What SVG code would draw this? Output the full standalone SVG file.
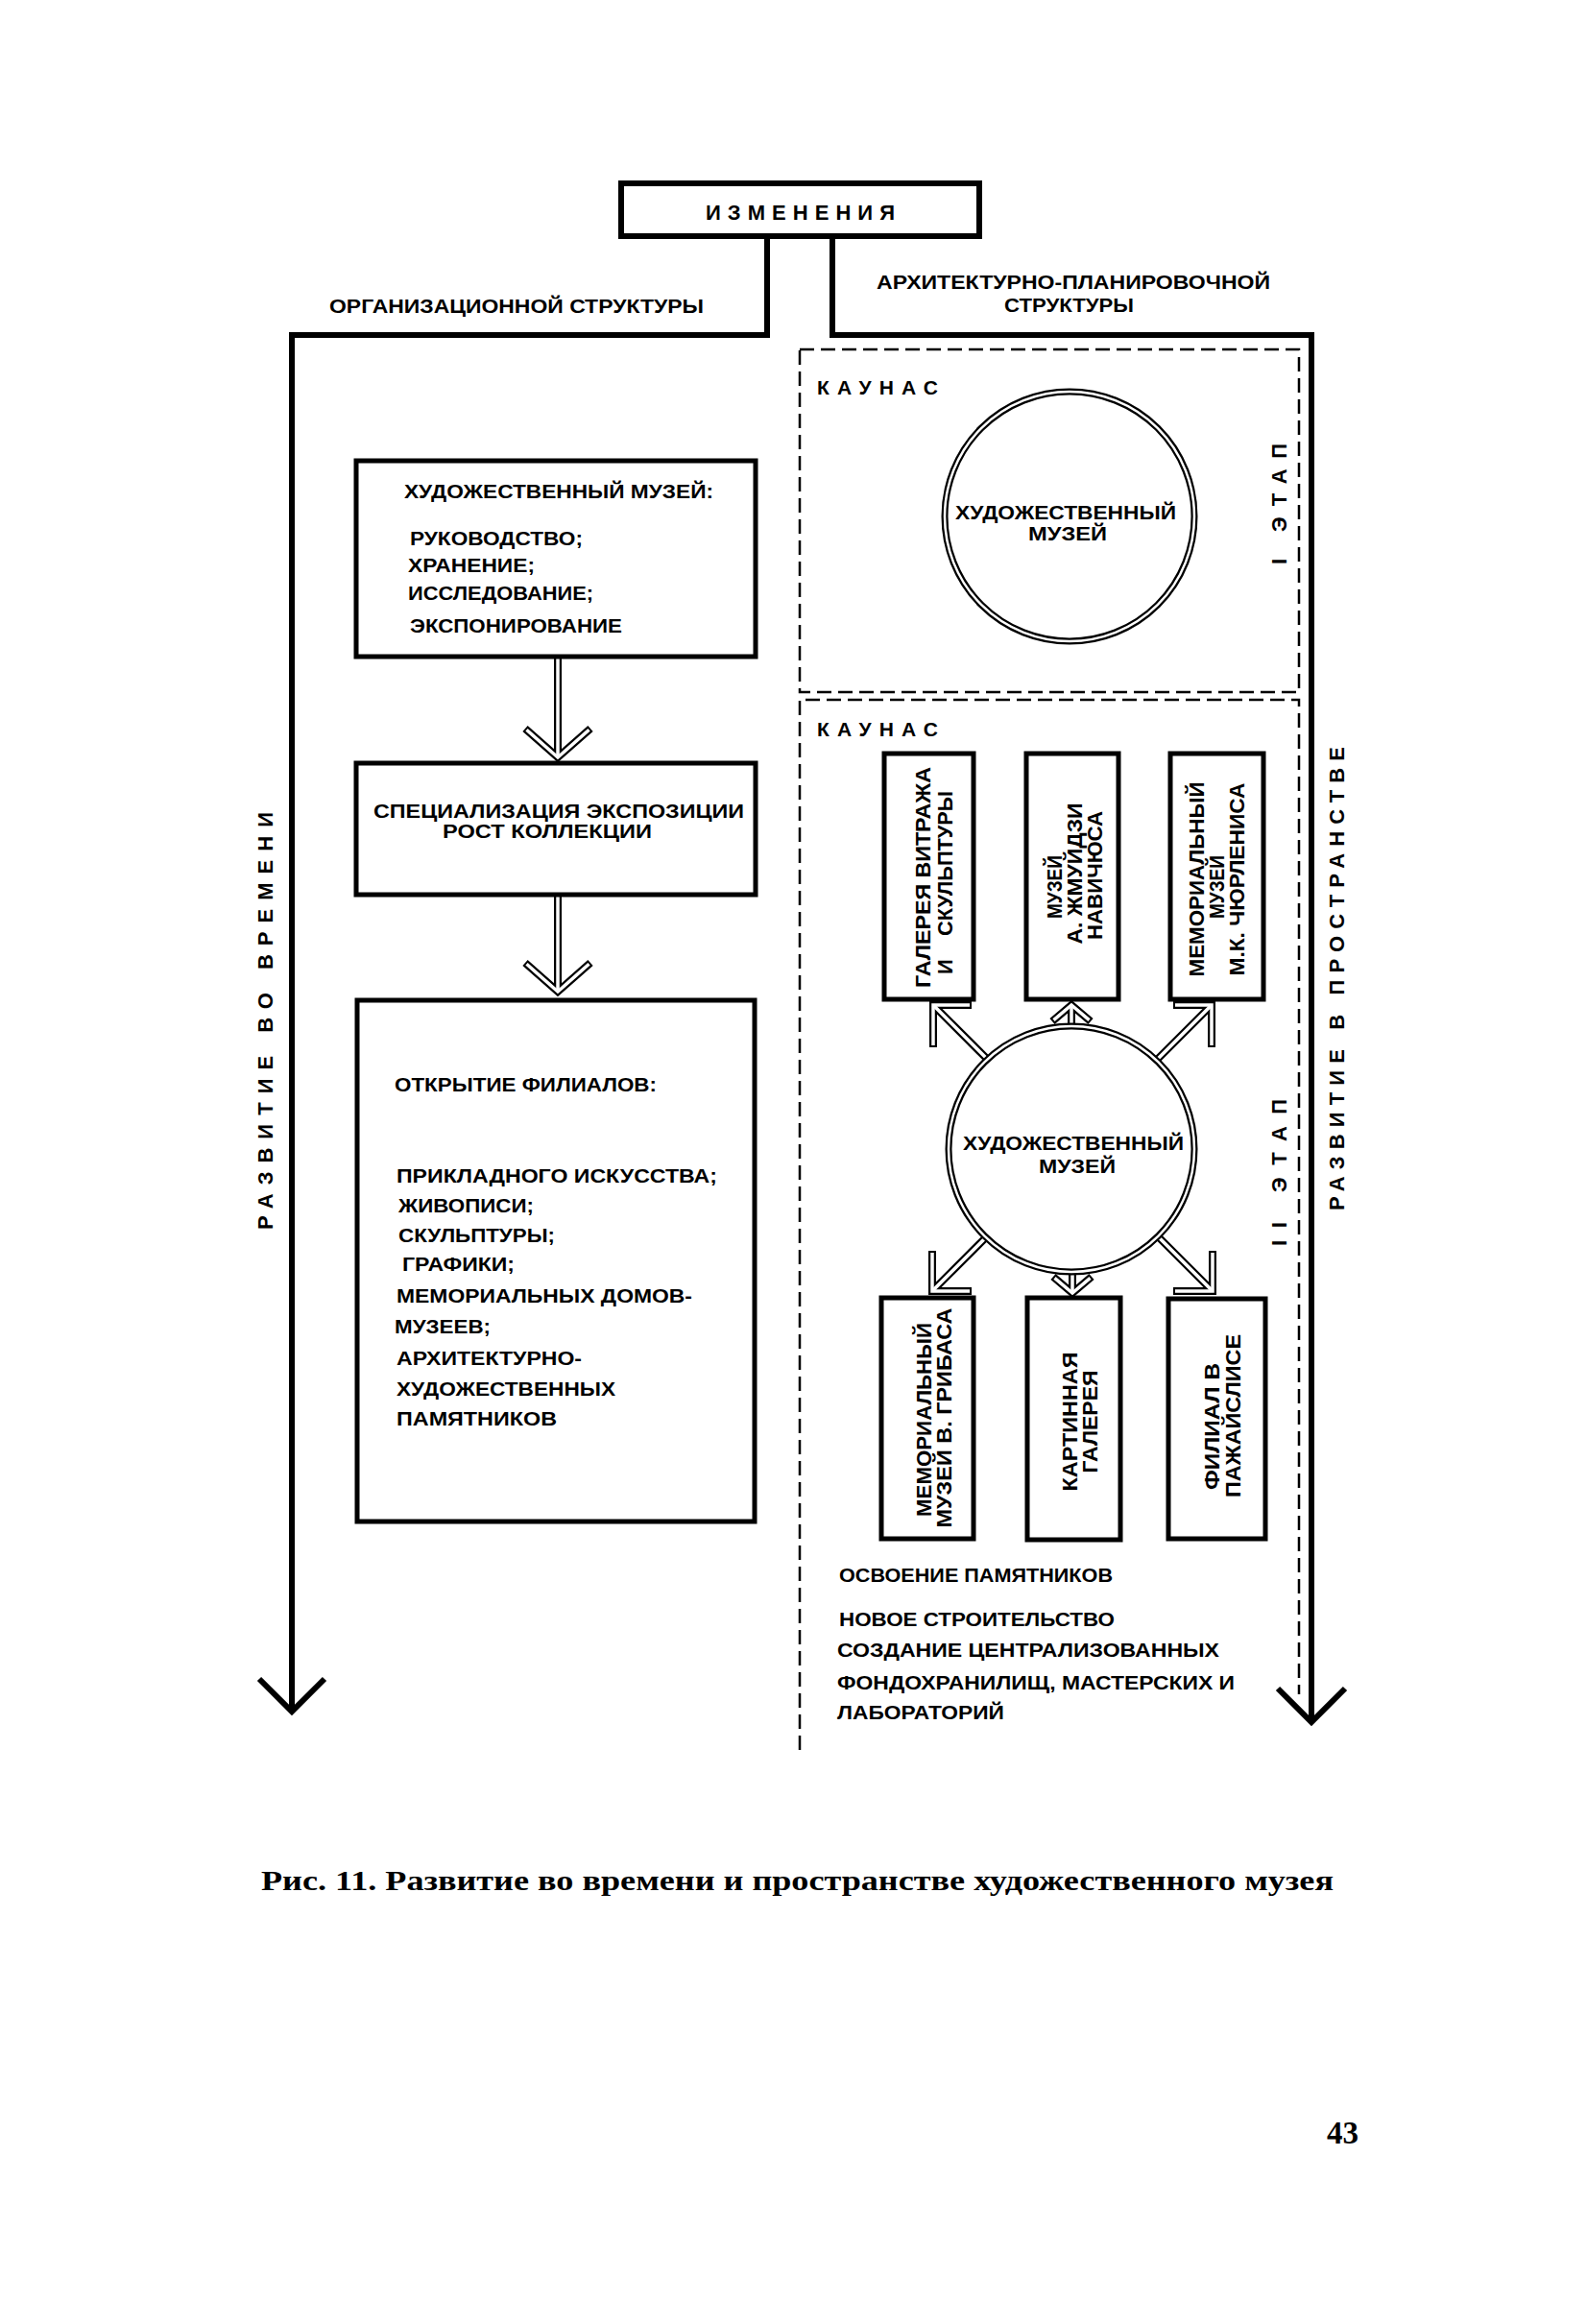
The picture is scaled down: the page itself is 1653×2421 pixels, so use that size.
<svg xmlns="http://www.w3.org/2000/svg" width="1653" height="2421" viewBox="0 0 1653 2421">
<style>
.ln{fill:none;stroke:#000;stroke-width:6;stroke-linejoin:miter;stroke-miterlimit:10}
.hb{fill:#fff;stroke:#000;stroke-width:6}
.bx{fill:#fff;stroke:#000;stroke-width:5}
.ds{fill:none;stroke:#000;stroke-width:2.5;stroke-dasharray:15 7}
.ok{fill:none;stroke:#000;stroke-width:8;stroke-linejoin:miter;stroke-miterlimit:10}
.iw{fill:none;stroke:#fff;stroke-width:3.5;stroke-linejoin:miter;stroke-miterlimit:10}
.rk{fill:#fff;stroke:#000;stroke-width:7}
.rw{fill:none;stroke:#fff;stroke-width:2.5}
text{font-family:"Liberation Sans",Arial,sans-serif;font-weight:bold;fill:#000}
.s{font-size:20px}
.n{font-size:21px}
.h{font-size:20px}
.v{font-size:22px;text-anchor:middle}
.m{font-size:21px;text-anchor:middle}
.sp{font-size:21px}
.rv{font-size:22px}
.cap{font-family:"Liberation Serif","Times New Roman",serif;font-size:30px}
</style>
<rect x="0" y="0" width="1653" height="2421" fill="#fff"/>

<g id="frames">
  <rect class="ds" x="833" y="364" width="520" height="357"/>
  <path class="ds" d="M833 1823 V729 H1353 V1765"/>
</g>

<g id="connectors">
  <path class="ln" d="M799 246 V349 H304 V1783"/>
  <path class="ln" d="M270 1749 L304 1783 L338 1749"/>
  <path class="ln" d="M867 246 V349 H1366 V1794"/>
  <path class="ln" d="M1331 1759 L1366 1794 L1401 1759"/>
  <g id="arrow-l1-l2">
    <path class="ok" d="M581 684 V789"/><path class="ok" d="M547 759 L581 789 L615 759"/>
    <path class="iw" d="M581 684 V789"/><path class="iw" d="M548.5 760.3 L581 789 L613.5 760.3"/>
  </g>
  <g id="arrow-l2-l3">
    <path class="ok" d="M581 932 V1033"/><path class="ok" d="M547 1003 L581 1033 L615 1003"/>
    <path class="iw" d="M581 932 V1033"/><path class="iw" d="M548.5 1004.3 L581 1033 L613.5 1004.3"/>
  </g>
  <g id="arrow-c2-a">
    <path class="ok" d="M972 1091 V1047 H1012"/><path class="ok" d="M972 1047 L1028 1103"/>
    <path class="iw" d="M972 1089 V1047 H1010"/><path class="iw" d="M972 1047 L1028 1103"/>
  </g>
  <g id="arrow-c2-b">
    <path class="ok" d="M1116 1072 V1047"/><path class="ok" d="M1096 1064 L1116 1047 L1136 1064"/>
    <path class="iw" d="M1116 1072 V1047"/><path class="iw" d="M1097.5 1062.7 L1116 1047 L1134.5 1062.7"/>
  </g>
  <g id="arrow-c2-c">
    <path class="ok" d="M1262 1091 V1047 H1222"/><path class="ok" d="M1262 1047 L1205 1104"/>
    <path class="iw" d="M1262 1089 V1047 H1224"/><path class="iw" d="M1262 1047 L1205 1104"/>
  </g>
  <g id="arrow-c2-d">
    <path class="ok" d="M971 1303 V1345 H1012"/><path class="ok" d="M971 1345 L1027 1289"/>
    <path class="iw" d="M971 1305 V1345 H1010"/><path class="iw" d="M971 1345 L1027 1289"/>
  </g>
  <g id="arrow-c2-e">
    <path class="ok" d="M1117 1322 V1346"/><path class="ok" d="M1097 1330 L1117 1347 L1137 1330"/>
    <path class="iw" d="M1117 1322 V1346"/><path class="iw" d="M1098.5 1331.3 L1117 1347 L1135.5 1331.3"/>
  </g>
  <g id="arrow-c2-f">
    <path class="ok" d="M1263 1303 V1345 H1222"/><path class="ok" d="M1263 1345 L1206 1288"/>
    <path class="iw" d="M1263 1305 V1345 H1224"/><path class="iw" d="M1263 1345 L1206 1288"/>
  </g>
</g>

<g id="izmeneniya">
  <rect class="hb" x="647" y="191" width="373" height="55"/>
  <text style="font-size:22px" x="735" y="229" textLength="197" lengthAdjust="spacing">ИЗМЕНЕНИЯ</text>
</g>
<g id="label-org">
  <text class="h" x="343" y="326" textLength="390" lengthAdjust="spacingAndGlyphs">ОРГАНИЗАЦИОННОЙ СТРУКТУРЫ</text>
</g>
<g id="label-arch">
  <text class="h" x="913" y="301" textLength="410" lengthAdjust="spacingAndGlyphs">АРХИТЕКТУРНО-ПЛАНИРОВОЧНОЙ</text>
  <text class="h" x="1046" y="325" textLength="135" lengthAdjust="spacingAndGlyphs">СТРУКТУРЫ</text>
</g>

<g id="label-time">
  <text class="rv" transform="translate(284,1281) rotate(-90)" x="0" y="0" textLength="435" lengthAdjust="spacing">РАЗВИТИЕ ВО ВРЕМЕНИ</text>
</g>
<g id="label-space">
  <text class="rv" transform="translate(1400,1261) rotate(-90)" x="0" y="0" textLength="483" lengthAdjust="spacing">РАЗВИТИЕ В ПРОСТРАНСТВЕ</text>
</g>
<g id="label-stage1">
  <text class="rv" transform="translate(1340,588) rotate(-90)" x="0" y="0" textLength="126" lengthAdjust="spacing">I ЭТАП</text>
</g>
<g id="label-stage2">
  <text class="rv" transform="translate(1340,1298) rotate(-90)" x="0" y="0" textLength="153" lengthAdjust="spacing">II ЭТАП</text>
</g>

<g id="box-museum-functions">
  <rect class="bx" x="371" y="480" width="416" height="204"/>
  <text class="s" x="421" y="519" textLength="322" lengthAdjust="spacingAndGlyphs">ХУДОЖЕСТВЕННЫЙ МУЗЕЙ:</text>
  <text class="s" x="427" y="568" textLength="180" lengthAdjust="spacingAndGlyphs">РУКОВОДСТВО;</text>
  <text class="s" x="425" y="596" textLength="132" lengthAdjust="spacingAndGlyphs">ХРАНЕНИЕ;</text>
  <text class="s" x="425" y="625" textLength="193" lengthAdjust="spacingAndGlyphs">ИССЛЕДОВАНИЕ;</text>
  <text class="s" x="427" y="659" textLength="221" lengthAdjust="spacingAndGlyphs">ЭКСПОНИРОВАНИЕ</text>
</g>
<g id="box-specialization">
  <rect class="bx" x="371" y="795" width="416" height="137"/>
  <text class="s" x="389" y="852" textLength="386" lengthAdjust="spacingAndGlyphs">СПЕЦИАЛИЗАЦИЯ ЭКСПОЗИЦИИ</text>
  <text class="s" x="461" y="873" textLength="218" lengthAdjust="spacingAndGlyphs">РОСТ КОЛЛЕКЦИИ</text>
</g>
<g id="box-branches">
  <rect class="bx" x="372" y="1042" width="414" height="543"/>
  <text class="s" x="411" y="1137" textLength="273" lengthAdjust="spacingAndGlyphs">ОТКРЫТИЕ ФИЛИАЛОВ:</text>
  <text class="s" x="413" y="1232" textLength="334" lengthAdjust="spacingAndGlyphs">ПРИКЛАДНОГО ИСКУССТВА;</text>
  <text class="s" x="415" y="1263" textLength="141" lengthAdjust="spacingAndGlyphs">ЖИВОПИСИ;</text>
  <text class="s" x="415" y="1294" textLength="163" lengthAdjust="spacingAndGlyphs">СКУЛЬПТУРЫ;</text>
  <text class="s" x="419" y="1324" textLength="117" lengthAdjust="spacingAndGlyphs">ГРАФИКИ;</text>
  <text class="s" x="413" y="1357" textLength="308" lengthAdjust="spacingAndGlyphs">МЕМОРИАЛЬНЫХ ДОМОВ-</text>
  <text class="s" x="411" y="1389" textLength="100" lengthAdjust="spacingAndGlyphs">МУЗЕЕВ;</text>
  <text class="s" x="413" y="1422" textLength="193" lengthAdjust="spacingAndGlyphs">АРХИТЕКТУРНО-</text>
  <text class="s" x="413" y="1454" textLength="228" lengthAdjust="spacingAndGlyphs">ХУДОЖЕСТВЕННЫХ</text>
  <text class="s" x="413" y="1485" textLength="167" lengthAdjust="spacingAndGlyphs">ПАМЯТНИКОВ</text>
</g>

<g id="kaunas-1">
  <text class="sp" x="851" y="411" textLength="126" lengthAdjust="spacing">КАУНАС</text>
</g>
<g id="circle-stage1">
  <circle class="rk" cx="1114" cy="538" r="130"/>
  <circle class="rw" cx="1114" cy="538" r="130"/>
  <text class="m" x="1110" y="541" textLength="230" lengthAdjust="spacingAndGlyphs">ХУДОЖЕСТВЕННЫЙ</text>
  <text class="m" x="1112" y="563" textLength="82" lengthAdjust="spacingAndGlyphs">МУЗЕЙ</text>
</g>

<g id="kaunas-2">
  <text class="sp" x="851" y="767" textLength="126" lengthAdjust="spacing">КАУНАС</text>
</g>
<g id="circle-stage2">
  <circle class="rk" cx="1116" cy="1197" r="128"/>
  <circle class="rw" cx="1116" cy="1197" r="128"/>
  <text class="m" x="1118" y="1198" textLength="230" lengthAdjust="spacingAndGlyphs">ХУДОЖЕСТВЕННЫЙ</text>
  <text class="m" x="1122" y="1222" textLength="80" lengthAdjust="spacingAndGlyphs">МУЗЕЙ</text>
</g>

<g id="box-vitrage">
  <rect class="bx" x="921" y="785" width="93" height="256"/>
  <text class="v" transform="translate(969,914) rotate(-90)" textLength="230" lengthAdjust="spacingAndGlyphs">ГАЛЕРЕЯ ВИТРАЖА</text>
  <text style="font-size:22px" transform="translate(992,0) rotate(-90)"><tspan x="-1015" y="0">И </tspan><tspan x="-975" y="0" textLength="151" lengthAdjust="spacingAndGlyphs">СКУЛЬПТУРЫ</tspan></text>
</g>
<g id="box-zmuidzinavicius">
  <rect class="bx" x="1069" y="785" width="96" height="256"/>
  <text class="v" transform="translate(1106,924) rotate(-90)" textLength="66" lengthAdjust="spacingAndGlyphs">МУЗЕЙ</text>
  <text class="v" transform="translate(1127,910) rotate(-90)" textLength="147" lengthAdjust="spacingAndGlyphs">А. ЖМУЙДЗИ</text>
  <text class="v" transform="translate(1148,912) rotate(-90)" textLength="134" lengthAdjust="spacingAndGlyphs">НАВИЧЮСА</text>
</g>
<g id="box-ciurlionis">
  <rect class="bx" x="1219" y="785" width="97" height="256"/>
  <text class="v" transform="translate(1254,916) rotate(-90)" textLength="203" lengthAdjust="spacingAndGlyphs">МЕМОРИАЛЬНЫЙ</text>
  <text class="v" transform="translate(1275,924) rotate(-90)" textLength="66" lengthAdjust="spacingAndGlyphs">МУЗЕЙ</text>
  <text class="v" transform="translate(1296,916) rotate(-90)" textLength="201" lengthAdjust="spacingAndGlyphs">М.К. ЧЮРЛЕНИСА</text>
</g>
<g id="box-gribas">
  <rect class="bx" x="918" y="1352" width="96" height="251"/>
  <text class="v" transform="translate(970,1479) rotate(-90)" textLength="202" lengthAdjust="spacingAndGlyphs">МЕМОРИАЛЬНЫЙ</text>
  <text class="v" transform="translate(991,1477) rotate(-90)" textLength="229" lengthAdjust="spacingAndGlyphs">МУЗЕЙ В. ГРИБАСА</text>
</g>
<g id="box-picture-gallery">
  <rect class="bx" x="1070" y="1352" width="97" height="252"/>
  <text class="v" transform="translate(1122,1481) rotate(-90)" textLength="145" lengthAdjust="spacingAndGlyphs">КАРТИННАЯ</text>
  <text class="v" transform="translate(1143,1481) rotate(-90)" textLength="107" lengthAdjust="spacingAndGlyphs">ГАЛЕРЕЯ</text>
</g>
<g id="box-pazaislis">
  <rect class="bx" x="1217" y="1353" width="101" height="250"/>
  <text class="v" transform="translate(1270,1486) rotate(-90)" textLength="132" lengthAdjust="spacingAndGlyphs">ФИЛИАЛ В</text>
  <text class="v" transform="translate(1292,1475) rotate(-90)" textLength="170" lengthAdjust="spacingAndGlyphs">ПАЖАЙСЛИСЕ</text>
</g>

<g id="notes-space">
  <text class="n" x="874" y="1648" textLength="285" lengthAdjust="spacingAndGlyphs">ОСВОЕНИЕ ПАМЯТНИКОВ</text>
  <text class="n" x="874" y="1694" textLength="287" lengthAdjust="spacingAndGlyphs">НОВОЕ СТРОИТЕЛЬСТВО</text>
  <text class="n" x="872" y="1726" textLength="398" lengthAdjust="spacingAndGlyphs">СОЗДАНИЕ ЦЕНТРАЛИЗОВАННЫХ</text>
  <text class="n" x="872" y="1760" textLength="414" lengthAdjust="spacingAndGlyphs">ФОНДОХРАНИЛИЩ, МАСТЕРСКИХ И</text>
  <text class="n" x="872" y="1791" textLength="174" lengthAdjust="spacingAndGlyphs">ЛАБОРАТОРИЙ</text>
</g>

<g id="caption">
  <text class="cap" x="272" y="1969" textLength="1117" lengthAdjust="spacingAndGlyphs">Рис. 11. Развитие во времени и пространстве художественного музея</text>
</g>
<g id="page-number">
  <text style="font-family:'Liberation Serif','Times New Roman',serif;font-size:33px" x="1382" y="2233">43</text>
</g>
</svg>
